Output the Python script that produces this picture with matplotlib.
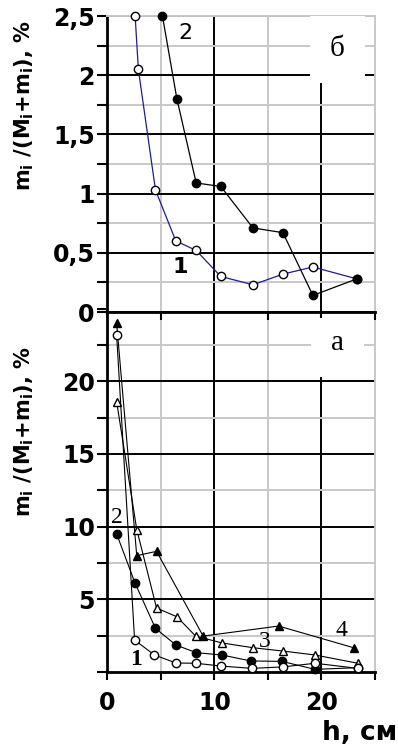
import matplotlib
matplotlib.use("Agg")
import matplotlib.pyplot as plt
from matplotlib.ticker import MultipleLocator, FixedLocator

# --- data ---
# panel "б" (top)
h1_b = [2.6, 2.9, 4.5, 6.4, 8.3, 10.6, 13.6, 16.4, 19.2, 23.3]
v1_b = [2.5, 2.05, 1.03, 0.60, 0.52, 0.30, 0.23, 0.32, 0.38, 0.28]
h2_b = [5.15, 6.5, 8.3, 10.6, 13.6, 16.4, 19.2, 23.3]
v2_b = [2.5, 1.80, 1.09, 1.06, 0.71, 0.67, 0.14, 0.28]

# panel "а" (bottom)
h1_a = [0.87, 2.55, 4.4, 6.4, 8.3, 10.6, 13.5, 16.4, 19.4, 23.4]
v1_a = [23.2, 2.2, 1.17, 0.62, 0.6, 0.41, 0.25, 0.35, 0.6, 0.25]
h2_a = [0.87, 2.6, 4.5, 6.4, 8.3, 10.7, 13.4, 16.3, 19.4, 23.4]
v2_a = [9.5, 6.1, 3.0, 1.86, 1.33, 1.17, 0.76, 0.73, 0.18, 0.3]
h3_a = [0.87, 2.75, 4.6, 6.5, 8.25, 10.7, 13.6, 16.4, 19.4, 23.4]
v3_a = [18.6, 9.8, 4.4, 3.8, 2.47, 2.0, 1.67, 1.44, 1.17, 0.6]
h4_a = [0.87, 2.75, 4.6, 8.95, 16.0, 23.0]
v4_a = [24.0, 8.0, 8.3, 2.47, 3.16, 1.67]

top_yticks = [0, 0.5, 1, 1.5, 2, 2.5]
top_ylabels = ["0", "0,5", "1", "1,5", "2", "2,5"]
bot_yticks = [5, 10, 15, 20]
x_ticks = [0, 10, 20]

plt.rcParams["font.family"] = ["DejaVu Sans"]
plt.rcParams["mathtext.fontset"] = "custom"
plt.rcParams["mathtext.rm"] = "DejaVu Sans:bold"

GRAY = "#c8c8c8"
W, H = 398, 747
serif = ["Liberation Serif", "DejaVu Serif"]
white_box = {"facecolor": "white", "edgecolor": "none", "boxstyle": "square,pad=0.7"}


def box(l, t, r, b):
    return [l / W, 1 - b / H, (r - l) / W, (b - t) / H]


def style_axes(ax, ymax, ymajor, yminor):
    ax.set_xlim(0, 25)
    ax.set_ylim(0, ymax)
    ax.xaxis.set_major_locator(FixedLocator(x_ticks))
    ax.xaxis.set_minor_locator(FixedLocator([5, 15, 25]))
    ax.yaxis.set_major_locator(MultipleLocator(ymajor))
    ax.yaxis.set_minor_locator(MultipleLocator(yminor))
    ax.grid(which="major", color="black", lw=1.4, zorder=0)
    ax.grid(which="minor", color=GRAY, lw=1.4, zorder=0)
    ax.set_axisbelow(True)
    for s in ["left", "bottom"]:
        ax.spines[s].set_linewidth(2)
        ax.spines[s].set_color("black")
    for s in ["right", "top"]:
        ax.spines[s].set_linewidth(1.4)
        ax.spines[s].set_color(GRAY)
    ax.tick_params(which="both", axis="y", direction="out", length=7, width=1.5, pad=2,
                   labelsize=17)
    ax.tick_params(which="both", axis="x", direction="out", length=6, width=1.5, pad=8,
                   labelsize=17)


fig = plt.figure(figsize=(W / 100, H / 100), dpi=100)

ax_a = fig.add_axes(box(107.3, 308.5, 375, 672))
ax_b = fig.add_axes(box(107.3, 16, 375, 312))

# --- top panel ---
style_axes(ax_b, 2.5, 0.5, 0.25)
ax_b.set_yticks(top_yticks)
ax_b.set_yticklabels(top_ylabels, fontweight="bold")
ax_b.set_xticklabels([])
ax_b.tick_params(axis="x", length=4)

ax_b.plot(h1_b, v1_b, color="#1c1c9c", lw=0.9, marker="o", ms=6, mfc="white", mec="black",
          mew=1, clip_on=False, zorder=3)
ax_b.plot(h2_b, v2_b, color="black", lw=0.9, marker="o", ms=6, mfc="black", mec="black",
          clip_on=False, zorder=4)
ax_b.text(7.3, 2.36, "2", fontsize=16, ha="center", va="center")
ax_b.text(6.8, 0.38, "1", fontsize=16, fontweight="bold", ha="center", va="center")
ax_b.text(21.5, 2.22, "б", fontsize=21, family=serif, ha="center", va="center",
          bbox=white_box)

# --- bottom panel ---
style_axes(ax_a, 25, 5, 2.5)
ax_a.set_yticks(bot_yticks)
ax_a.set_yticklabels([str(t) for t in bot_yticks], fontweight="bold")
ax_a.set_xticklabels([str(t) for t in x_ticks], fontweight="bold")

kw = dict(color="black", lw=0.8, ms=6, mec="black", mew=1, clip_on=False)
ax_a.plot(h4_a, v4_a, marker="^", mfc="black", zorder=3, **kw)
ax_a.plot(h3_a, v3_a, marker="^", mfc="white", zorder=4, **kw)
ax_a.plot(h2_a, v2_a, marker="o", mfc="black", zorder=5, **kw)
ax_a.plot(h1_a, v1_a, marker="o", mfc="white", zorder=6, **kw)

ax_a.text(0.9, 10.6, "2", fontsize=17, family=serif, ha="center", va="center")
ax_a.text(2.7, 0.85, "1", fontsize=17, fontweight="bold", family=serif,
          ha="center", va="center")
ax_a.text(14.7, 2.1, "3", fontsize=17, family=serif, ha="center", va="center")
ax_a.text(21.9, 2.85, "4", fontsize=17, family=serif, ha="center", va="center")
ax_a.text(21.5, 22.6, "а", fontsize=21, family=serif, ha="center", va="center",
          bbox=white_box)

ylab = r"m$_\mathrm{i}$ /(M$_\mathrm{i}$+m$_\mathrm{i}$), %"
fig.text(24 / W, 1 - 106 / H, ylab, rotation=90, fontsize=15, fontweight="bold",
         ha="center", va="center")
fig.text(24 / W, 1 - 432 / H, ylab, rotation=90, fontsize=15, fontweight="bold",
         ha="center", va="center")
fig.text(397 / W, 1 - 733 / H, "h, см", fontsize=19, fontweight="bold",
         ha="right", va="center")

fig.savefig("out.png", dpi=100)
